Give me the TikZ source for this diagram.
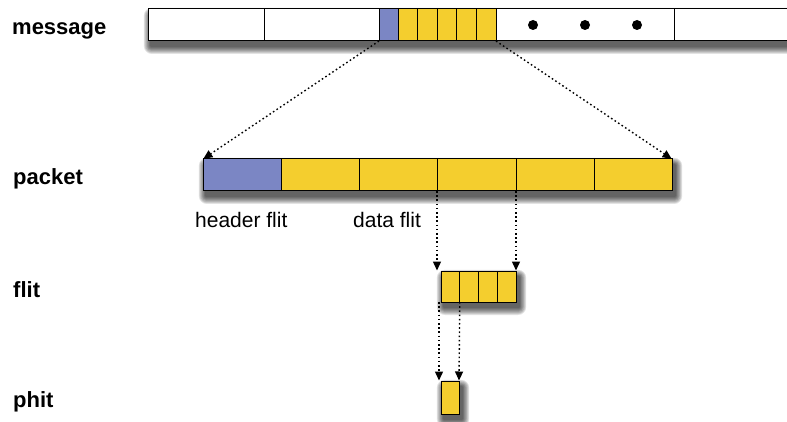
\documentclass[tikz,border=0pt]{standalone}
\usepackage{fontspec}
\setmainfont{Liberation Sans}
\usetikzlibrary{arrows.meta}

\definecolor{hdrblue}{RGB}{123,134,196}
\definecolor{flityellow}{RGB}{244,206,46}

\tikzset{
  cell/.style={draw=black, line width=1pt, inner sep=0pt, outer sep=0pt,
               anchor=north west, minimum height=#1},
  cell/.default=32pt,
  whitecell/.style={cell, fill=white},
  bluecell/.style={cell, fill=hdrblue},
  yellowcell/.style={cell, fill=flityellow},
  shadelayer/.style={fill=black, fill opacity=0.11},
  rowlabel/.style={font=\fontsize{22}{24}\selectfont\bfseries, anchor=base west, inner sep=0pt},
  partlabel/.style={font=\fontsize{21}{23}\selectfont, anchor=base west, inner sep=0pt},
  zoomline/.style={dash pattern=on 1.6pt off 2.6pt, line width=1.4pt,
               -{Triangle[length=9pt,width=8pt]}, shorten >=0.5pt},
  bigdot/.style={circle, fill=black, inner sep=0pt, minimum size=10pt}
}

% soft drop shadow below a bar: stacked translucent rectangles
\newcommand\castshadow[4]{%
  \foreach \k in {1,...,8}
    \fill[shadelayer, rounded corners=\k pt]
      (#1+3-\k*0.9, #2+6-\k*0.9) rectangle (#3+3+\k*0.9, #4+5+\k*1.0);
}

\begin{document}
\begin{tikzpicture}[x=1pt,y=-1pt]
  \useasboundingbox (0,0) rectangle (787,422);

  % row labels
  \node[rowlabel] (lmsg) at (12,35) {message};
  \node[rowlabel] (lpkt) at (13,185) {packet};
  \node[rowlabel] (lflit) at (13,297) {flit};
  \node[rowlabel] (lphit) at (13,407) {phit};

  % shadows behind each bar
  \castshadow{148}{9}{800}{41}
  \castshadow{203}{159}{672}{191}
  \castshadow{441}{271}{516}{302}
  \castshadow{441}{381}{459}{414}

  % message
  \node[whitecell, minimum width=116pt] (m1) at (148,9) {};
  \node[whitecell, minimum width=115pt] (m2) at (264,9) {};
  \node[bluecell, minimum width=19pt] (mh) at (379,9) {};
  \foreach \i/\x in {1/398,2/417.6,3/437.2,4/456.8,5/476.4}
    \node[yellowcell, minimum width=19.6pt] (md\i) at (\x,9) {};
  \node[whitecell, minimum width=178pt] (m3) at (496,9) {};
  \node[whitecell, minimum width=120pt] (m4) at (674,9) {};
  \node[bigdot] (dot1) at (533,25) {};
  \node[bigdot] (dot2) at (585,25) {};
  \node[bigdot] (dot3) at (637,25) {};

  % packet
  \node[bluecell, minimum width=78pt] (ph) at (203,159) {};
  \foreach \i/\x/\w in {1/281/78,2/359/78,3/437/79,4/516/78,5/594/78}
    \node[yellowcell, minimum width=\w pt] (pd\i) at (\x,159) {};

  \node[partlabel] (lhdr) at (195,227) {header flit};
  \node[partlabel] (ldata) at (353,227) {data flit};

  % flit
  \foreach \i/\x in {1/441,2/459.75,3/478.5,4/497.25}
    \node[yellowcell, minimum width=18.75pt, minimum height=31pt] (f\i) at (\x,271) {};

  % phit
  \node[yellowcell, minimum width=18pt, minimum height=33pt] (p1) at (441,381) {};

  % zoom-in connectors
  \draw[zoomline] (mh.south west) -- (ph.north west);
  \draw[zoomline] (md5.south east) -- (pd5.north east);
  \draw[zoomline] (pd3.south west) -- (pd3.south west |- f1.north);
  \draw[zoomline] (pd3.south east) -- (f4.north east);
  \draw[zoomline] ([xshift=-2pt]f1.south west) -- ([xshift=-2pt]p1.north west);
  \draw[zoomline] (f1.south east) -- (p1.north east);
\end{tikzpicture}
\end{document}
